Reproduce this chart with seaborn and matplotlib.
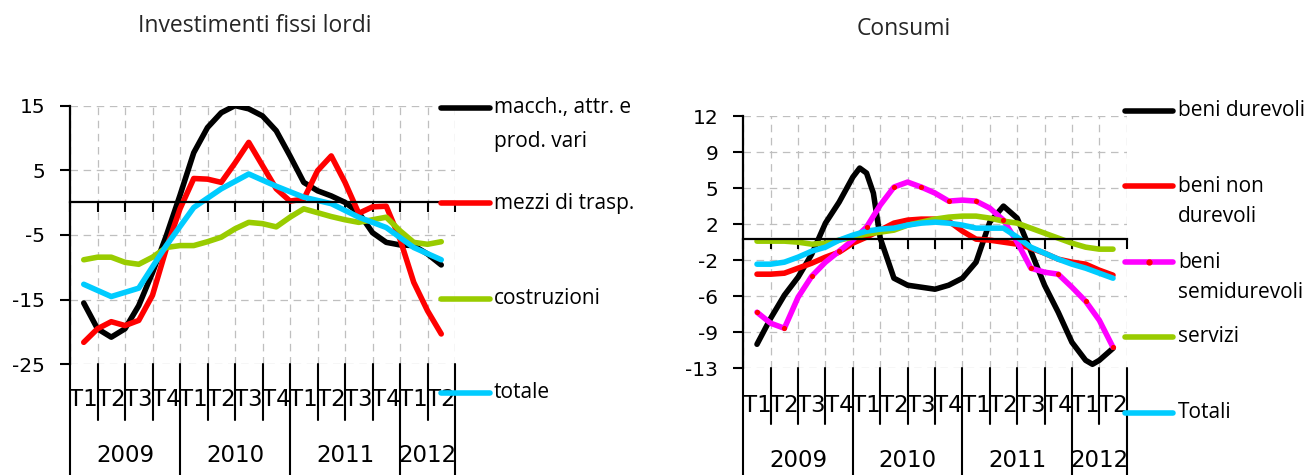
import numpy as np
import matplotlib
matplotlib.use("Agg")
import matplotlib.pyplot as plt
from matplotlib.lines import Line2D
import seaborn as sns

# ---------------- data ----------------
# positions in quarters from 2009 T1 (half-quarter readings of smoothed curves)
half_steps = [i / 2 for i in range(27)]
quarter_steps = list(range(14))

quarter_labels = ["T1", "T2", "T3", "T4"] * 3 + ["T1", "T2"]
years = ["2009", "2010", "2011", "2012"]
year_centers = [1.5, 5.5, 9.5, 12.5]

# Investimenti fissi lordi
inv_macch = [-15.7, -19.7, -21.0, -19.7, -16.1, -11.0, -5.3, 1.0, 7.6, 11.5, 13.8, 14.9, 14.4,
             13.3, 11.0, 7.1, 3.0, 1.7, 0.9, -0.1, -1.7, -4.8, -6.3, -6.7, -6.8, -8.1, -9.8]
inv_mezzi = [-21.8, -19.7, -18.6, -19.2, -18.4, -14.5, -7.3, -1.1, 3.6, 3.5, 3.0, 6.0, 9.2,
             5.6, 2.0, 0.1, 0.4, 4.8, 7.1, 3.0, -1.8, -0.8, -0.7, -5.8, -12.5, -16.9, -20.5]
inv_costr = [-9.0, -8.6, -8.6, -9.4, -9.7, -8.6, -7.1, -6.8, -6.8, -6.2, -5.5, -4.2, -3.2,
             -3.4, -3.9, -2.4, -1.1, -1.7, -2.3, -2.8, -3.2, -2.8, -2.4, -4.5, -6.3, -6.6, -6.2]
inv_totale = [-12.8, -14.7, -13.4, -6.8, -0.9, 2.0, 4.3, 2.4, 0.7, -0.3, -2.4, -4.0, -7.1, -9.0]

inv_yticks = [14.84, 4.84, -5.16, -15.16, -25.16]
inv_ylabels = ["15", "5", "-5", "-15", "-25"]

# Consumi
dur_steps = [0, 0.5, 1, 1.5, 2, 2.5, 3, 3.5, 3.75, 4, 4.25, 4.5, 5, 5.5, 6, 6.5, 7, 7.5, 8,
             8.5, 9, 9.5, 10, 10.5, 11, 11.5, 12, 12.25, 12.5, 13]
con_durevoli = [-10.5, -7.9, -5.6, -3.8, -1.5, 1.6, 3.7, 6.2, 7.1, 6.6, 4.6, 0.1, -3.9, -4.6,
                -4.8, -5.0, -4.6, -3.9, -2.3, 1.7, 3.3, 2.1, -1.2, -4.6, -7.3, -10.3, -12.1,
                -12.5, -12.1, -10.9]
con_non_dur = [-3.5, -3.5, -3.4, -2.9, -2.4, -1.8, -1.3, -0.4, 0.2, 0.9, 1.6, 1.9, 2.0, 2.0,
               1.8, 0.8, 0.0, -0.1, -0.3, -0.5, -0.9, -1.4, -2.0, -2.3, -2.5, -3.1, -3.6]
con_semidur = [-7.3, -8.4, -8.9, -5.8, -3.7, -2.3, -1.2, -0.1, 1.2, 3.4, 5.2, 5.7, 5.2, 4.6,
               3.8, 3.9, 3.8, 3.1, 1.9, -0.3, -2.9, -3.3, -3.5, -4.8, -6.2, -8.1, -10.8]
con_servizi = [-0.2, -0.2, -0.2, -0.3, -0.5, -0.4, -0.1, 0.2, 0.5, 0.7, 0.9, 1.4, 1.7, 2.0,
               2.2, 2.3, 2.3, 2.1, 1.8, 1.6, 1.1, 0.6, 0.1, -0.4, -0.8, -1.0, -1.0]
con_totali = [-2.5, -2.5, -2.3, -1.8, -1.2, -0.8, -0.1, 0.4, 0.8, 1.0, 1.1, 1.4, 1.6, 1.7,
              1.6, 1.4, 1.1, 1.1, 1.1, 0.2, -0.8, -1.4, -2.0, -2.5, -2.9, -3.4, -3.9]

con_yticks = [12.3, 8.7, 5.1, 1.5, -2.1, -5.7, -9.3, -12.9]
con_ylabels = ["12", "9", "5", "2", "-2", "-6", "-9", "-13"]

BLACK, RED, GREEN, CYAN, MAGENTA = "#000000", "#FF0000", "#99CC00", "#00CCFF", "#FF00FF"

# ---------------- figure ----------------
sns.set_theme(style="white")
plt.rcParams['font.family'] = ['DejaVu Sans']
W, H = 1309, 475
fig = plt.figure(figsize=(W / 100, H / 100), dpi=100)
fig.patch.set_facecolor("white")
LW = 4.0
LEG_FONT = "Open Sans"


def make_axes(l, r, t, b):
    return fig.add_axes([l / W, 1 - b / H, (r - l) / W, (b - t) / H])


def style(ax, ylim, yticks, ylabels, q_dy, y_dy, qline_dy):
    ax_h = ax.get_position().height * H
    n = len(quarter_labels)
    ax.set_xlim(-0.5, n - 0.5)
    ax.set_ylim(*ylim)
    ax.set_yticks(yticks)
    ax.set_yticklabels(ylabels)
    ax.set_xticks(np.arange(-0.5, n, 1.0))
    ax.set_xticklabels([])
    ax.set_axisbelow(True)
    ax.grid(True, color="#BFBFBF", linestyle=(0, (6, 4.5)), linewidth=0.9)
    for s in ["top", "right"]:
        ax.spines[s].set_visible(False)
    ax.spines["bottom"].set_position(("data", 0))
    for s in ["bottom", "left"]:
        ax.spines[s].set_color("black")
        ax.spines[s].set_linewidth(1.6)
    ax.tick_params(axis="x", direction="out", length=7, width=1.5, color="black",
                   bottom=True, labelbottom=False)
    ax.tick_params(axis="y", direction="out", length=7, width=1.5, color="black",
                   left=True, pad=11, labelsize=14.5, labelcolor="black")
    ax.set_xlabel("")
    ax.set_ylabel("")
    tr = ax.get_xaxis_transform()
    # category table
    for k in range(n + 1):
        x = k - 0.5
        bottom = -(H) / ax_h if (k % 4 == 0 or k == n) else -qline_dy / ax_h
        ax.plot([x, x], [0, bottom], transform=tr, clip_on=False, color="black", lw=1.5)
    for i, lab in enumerate(quarter_labels):
        ax.text(i, -q_dy / ax_h, lab, transform=tr, ha="center", va="center",
                fontsize=16.5, color="black")
    for c, lab in zip(year_centers, years):
        ax.text(c, -y_dy / ax_h, lab, transform=tr, ha="center", va="center",
                fontsize=16.5, color="black")


def draw(ax, x, y, color):
    sns.lineplot(x=x, y=y, ax=ax, color=color, linewidth=LW, sort=False, estimator=None)
    ln = ax.lines[-1]
    ln.set_solid_capstyle("round")
    ln.set_solid_joinstyle("round")


def legend_entry(x0, x1, xt, y, color, lines, spacing, dot=None):
    fig.add_artist(Line2D([x0 / W, x1 / W], [1 - y / H, 1 - y / H], color=color, lw=LW,
                          solid_capstyle="round", transform=fig.transFigure))
    if dot:
        fig.add_artist(Line2D([(x0 + x1) / 2 / W], [1 - y / H], marker="o", ms=3.5,
                              color=dot, lw=0, transform=fig.transFigure))
    for j, txt in enumerate(lines):
        fig.text(xt / W, 1 - (y + j * spacing) / H, txt, ha="left", va="center",
                 fontsize=15, family=LEG_FONT, color="black")


# ----- left: Investimenti -----
axL = make_axes(70, 455, 106, 364)
style(axL, (-25.16, 14.84), inv_yticks, inv_ylabels, q_dy=35, y_dy=92, qline_dy=56)
draw(axL, half_steps, inv_macch, BLACK)
draw(axL, half_steps, inv_mezzi, RED)
draw(axL, half_steps, inv_costr, GREEN)
draw(axL, quarter_steps, inv_totale, CYAN)

fig.text(255 / W, 1 - 26 / H, "Investimenti fissi lordi", ha="center", va="center",
         fontsize=16.5, family=LEG_FONT)

legend_entry(441, 490, 494, 108, BLACK, ["macch., attr. e", "prod. vari"], 34)
legend_entry(441, 490, 494, 203, RED, ["mezzi di trasp."], 34)
legend_entry(441, 490, 494, 299, GREEN, ["costruzioni"], 34)
legend_entry(441, 490, 494, 393, CYAN, ["totale"], 34)

# ----- right: Consumi -----
axR = make_axes(743.3, 1126.7, 116, 368.3)
style(axR, (-12.9, 12.3), con_yticks, con_ylabels, q_dy=37, y_dy=92, qline_dy=56)
draw(axR, dur_steps, con_durevoli, BLACK)
draw(axR, half_steps, con_non_dur, RED)
draw(axR, half_steps, con_semidur, MAGENTA)
sns.scatterplot(x=quarter_steps, y=con_semidur[::2], ax=axR, color=RED, s=14,
                linewidth=0, zorder=5)
draw(axR, half_steps, con_servizi, GREEN)
draw(axR, half_steps, con_totali, CYAN)

fig.text(903.5 / W, 1 - 29 / H, "Consumi", ha="center", va="center",
         fontsize=16.5, family=LEG_FONT)

legend_entry(1125, 1173, 1178, 110.7, BLACK, ["beni durevoli"], 30)
legend_entry(1125, 1173, 1178, 186, RED, ["beni non", "durevoli"], 30)
legend_entry(1125, 1173, 1178, 262, MAGENTA, ["beni", "semidurevoli"], 31, dot=RED)
legend_entry(1125, 1173, 1178, 337, GREEN, ["servizi"], 30)
legend_entry(1125, 1173, 1178, 413, CYAN, ["Totali"], 30)

fig.savefig("out.png", dpi=100, facecolor="white")
